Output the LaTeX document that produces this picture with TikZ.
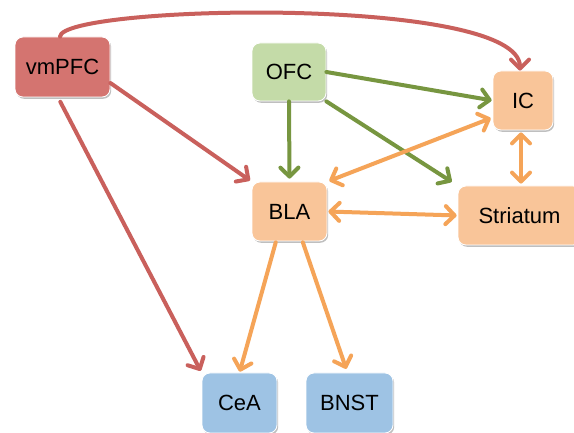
\documentclass[tikz,border=0pt]{standalone}
\usepackage{fontspec}
\setmainfont{Liberation Sans}
\usetikzlibrary{arrows.meta,shadows}
\definecolor{redfill}{RGB}{212,116,112}
\definecolor{greenfill}{RGB}{196,219,168}
\definecolor{orangefill}{RGB}{249,197,153}
\definecolor{bluefill}{RGB}{158,195,228}
\definecolor{redline}{RGB}{201,96,92}
\definecolor{greenline}{RGB}{119,150,64}
\definecolor{orangeline}{RGB}{245,164,88}
\tikzset{
  region/.style={draw=white, line width=0.8pt, rounded corners=8pt, inner sep=0pt,
    font=\fontsize{22}{26}\selectfont, text=black,
    drop shadow={shadow xshift=1.2pt, shadow yshift=-1.8pt, opacity=0.25, fill=black}},
  conn/.style={line width=4pt, line cap=round,
    -{Straight Barb[length=9pt,width=18pt,round]}},
  biconn/.style={line width=4pt, line cap=round,
    {Straight Barb[length=9pt,width=18pt,round]}-{Straight Barb[length=9pt,width=18pt,round]}},
}
\begin{document}
\begin{tikzpicture}[x=1pt,y=-1pt]
\useasboundingbox (0,0) rectangle (574,433);
\fill[white] (0,0) rectangle (574,433);
% nodes
\node[region, fill=redfill, minimum width=95pt, minimum height=60pt] (vmPFC) at (62.5,67) {vmPFC};
\node[region, fill=greenfill, minimum width=74pt, minimum height=58pt] (OFC) at (289,72) {OFC};
\node[region, fill=orangefill, minimum width=60pt, minimum height=59pt] (IC) at (523,100.5) {IC};
\node[region, fill=orangefill, minimum width=75pt, minimum height=59pt] (BLA) at (289.5,211.5) {BLA};
\node[region, fill=orangefill, minimum width=123pt, minimum height=59pt] (Str) at (519.5,215.5) {Striatum};
\node[region, fill=bluefill, minimum width=75pt, minimum height=60pt] (CeA) at (239.5,403) {CeA};
\node[region, fill=bluefill, minimum width=87pt, minimum height=60pt] (BNST) at (349.5,403) {BNST};
% red connectors
\draw[conn, redline] ([xshift=-2.5pt]vmPFC.north) .. controls (62,5) and (520,-5) .. ([xshift=-3pt]IC.north);
\draw[conn, redline, shorten >=2pt] ([yshift=-16pt]vmPFC.east) -- (BLA.north west);
\draw[conn, redline, shorten <=5pt, shorten >=2pt] ([xshift=-4.5pt]vmPFC.south) -- (CeA.north west);
% green connectors
\draw[conn, greenline, shorten >=1pt] (OFC.east) -- (IC.west);
\draw[conn, greenline, shorten >=3pt] (OFC.south) -- (BLA.north);
\draw[conn, greenline, shorten >=7pt] (OFC.south east) -- (Str.north west);
% orange connectors
\draw[biconn, orangeline, shorten <=2pt, shorten >=2pt] (BLA.north east) -- ([yshift=-17pt]IC.west);
\draw[biconn, orangeline, shorten <=2pt, shorten >=2pt] ([xshift=-2pt]IC.south) -- ([xshift=-2pt]IC.south |- Str.north);
\draw[biconn, orangeline, shorten <=1pt, shorten >=1pt] (BLA.east) -- (Str.west);
\draw[conn, orangeline, shorten <=1pt, shorten >=1pt] ([xshift=-13.5pt]BLA.south) -- (CeA.north);
\draw[conn, orangeline, shorten <=1pt, shorten >=4pt] ([xshift=13pt]BLA.south) -- ([xshift=-2pt]BNST.north);
\end{tikzpicture}
\end{document}
